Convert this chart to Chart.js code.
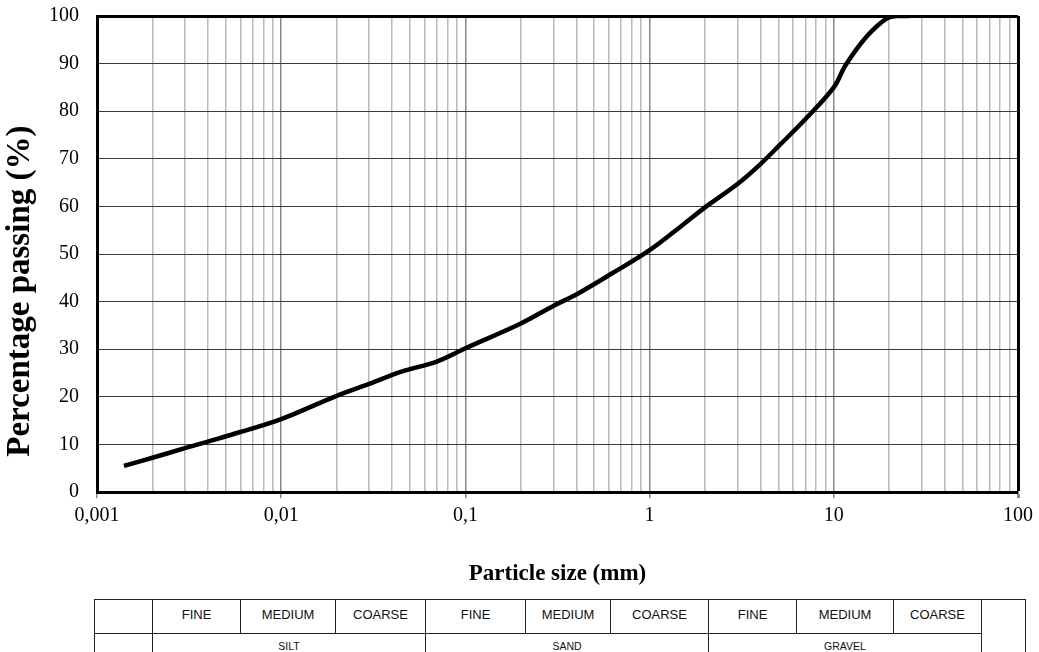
<!DOCTYPE html>
<html>
<head>
<meta charset="utf-8">
<script src="https://cdn.jsdelivr.net/npm/chart.js@4/dist/chart.umd.min.js"></script>
<style>
    body { margin: 0; background: #fff; }
    #wrap { position: relative; width: 1039px; height: 652px; overflow: hidden; }
    #soil {
        position: absolute; left: 94px; top: 599px;
        border-collapse: collapse; table-layout: fixed;
        font-family: "Liberation Sans", Arial, sans-serif; color: #111;
    }
    #soil td { border: 1px solid #222; text-align: center; padding: 0; }
    #soil tr.sub td { height: 34px; font-size: 13px; vertical-align: top; padding-top: 7px; box-sizing: border-box; }
    #soil tr.grp td { height: 20px; font-size: 10.5px; padding-top: 5px; box-sizing: border-box; }
</style>
</head>
<body>
<div id="wrap">
    <canvas id="psd" width="1039" height="595"></canvas>
    <table id="soil"></table>
</div>
<script>
// grading curve
var particleSize = [0.0014, 0.002, 0.003, 0.004, 0.006, 0.01, 0.02, 0.03, 0.045, 0.07, 0.1, 0.2, 0.3, 0.4, 0.63, 1, 1.5, 2, 3, 4, 5, 7, 10, 11.6, 15, 19.4, 22, 25.5];
var passing = [5.5, 7.2, 9.2, 10.6, 12.6, 15.3, 20.2, 22.7, 25.3, 27.4, 30.2, 35.4, 39.1, 41.5, 46, 50.8, 56, 59.8, 64.7, 68.9, 72.6, 78.3, 85, 89.7, 95.6, 99.5, 100, 100];

var decades = [0.001, 0.01, 0.1, 1, 10, 100];
var decadeLabels = ['0,001', '0,01', '0,1', '1', '10', '100'];

// classification strip under the chart
var fractions = ['FINE', 'MEDIUM', 'COARSE'];
var soilGroups = ['SILT', 'SAND', 'GRAVEL'];
var colWidths = [58, 88, 95, 90, 100, 85, 98, 88, 97, 88, 44];

function isDecade(v) {
    var l = Math.log10(v);
    return Math.abs(l - Math.round(l)) < 1e-9;
}

// all 1..9 x 10^n ticks for the log grid
var xTicks = [];
for (let d = 0; d < decades.length - 1; d++) {
    for (let m = 1; m < 10; m++) {
        xTicks.push(decades[d] * m);
    }
}
xTicks.push(decades[decades.length - 1]);

var points = particleSize.map((x, i) => ({ x: x, y: passing[i] }));

var ctx = document.getElementById('psd').getContext('2d');
var psdChart = new Chart(ctx, {
    type: 'line',
    data: {
        datasets: [
            {
                label: 'Percentage passing',
                data: points,
                borderColor: '#000',
                borderWidth: 4.5,
                pointRadius: 0,
                fill: false,
                tension: 0.35
            }
        ]
    },
    options: {
        responsive: false,
        animation: false,
        layout: { padding: { top: 16, right: 20, left: 0, bottom: 0 } },
        plugins: {
            legend: { display: false },
            tooltip: { enabled: false }
        },
        scales: {
            x: {
                type: 'logarithmic',
                min: 0.001,
                max: 100,
                afterBuildTicks: function (scale) {
                    scale.ticks = xTicks.map(v => ({ value: v }));
                },
                afterFit: function (scale) {
                    scale.height = 103;
                },
                ticks: {
                    autoSkip: false,
                    maxRotation: 0,
                    padding: 6,
                    color: '#000',
                    font: { family: 'Liberation Serif', size: 20 },
                    callback: function (val) {
                        if (!isDecade(val)) return '';
                        var i = decades.findIndex(d => Math.abs(d - val) / d < 1e-6);
                        return decadeLabels[i];
                    }
                },
                grid: {
                    color: function (c) {
                        if (!c.tick) return '#bbb';
                        if (c.tick.value >= 100) return '#000';
                        return isDecade(c.tick.value) ? '#888' : '#bababa';
                    },
                    lineWidth: function (c) {
                        return c.tick && c.tick.value >= 100 ? 3 : 1.5;
                    },
                    tickColor: function (c) {
                        return c.tick && isDecade(c.tick.value) ? '#888' : 'rgba(0,0,0,0)';
                    },
                    tickLength: 6
                },
                border: { color: '#000', width: 3 },
                title: {
                    display: true,
                    text: 'Particle size (mm)',
                    color: '#000',
                    font: { family: 'Liberation Serif', size: 23, weight: 'bold' },
                    padding: { top: 0, bottom: 7 }
                }
            },
            y: {
                min: 0,
                max: 100,
                afterFit: function (scale) {
                    scale.width = 97;
                    // labels sit 18px off the axis, don't let that push the plot down
                    scale.paddingTop = 0;
                    scale.paddingBottom = 0;
                },
                ticks: {
                    stepSize: 10,
                    padding: 18,
                    color: '#000',
                    font: { family: 'Liberation Serif', size: 20 }
                },
                grid: {
                    drawTicks: false,
                    color: function (c) {
                        return c.tick && c.tick.value >= 100 ? '#000' : '#3a3a3a';
                    },
                    lineWidth: function (c) {
                        return c.tick && c.tick.value >= 100 ? 3 : 1;
                    }
                },
                border: { color: '#000', width: 3 },
                title: {
                    display: true,
                    // trailing spaces push the label a bit below the plot centre, like the original
                    text: 'Percentage passing (%)\u00a0\u00a0\u00a0\u00a0\u00a0\u00a0\u00a0\u00a0\u00a0',
                    color: '#000',
                    font: { family: 'Liberation Serif', size: 33, weight: 'bold' },
                    padding: { top: 1, bottom: 0 }
                }
            }
        }
    }
});

// build the soil classification table
var table = document.getElementById('soil');
var cg = document.createElement('colgroup');
colWidths.forEach(w => {
    var c = document.createElement('col');
    c.style.width = w + 'px';
    cg.appendChild(c);
});
table.appendChild(cg);
table.style.width = colWidths.reduce((a, b) => a + b, 0) + 'px';

var row1 = table.insertRow();
row1.className = 'sub';
row1.insertCell();
soilGroups.forEach(() => {
    fractions.forEach(f => {
        row1.insertCell().textContent = f;
    });
});
row1.insertCell().rowSpan = 2;

var row2 = table.insertRow();
row2.className = 'grp';
row2.insertCell();
soilGroups.forEach(g => {
    var cell = row2.insertCell();
    cell.colSpan = fractions.length;
    cell.textContent = g;
});
</script>
</body>
</html>
